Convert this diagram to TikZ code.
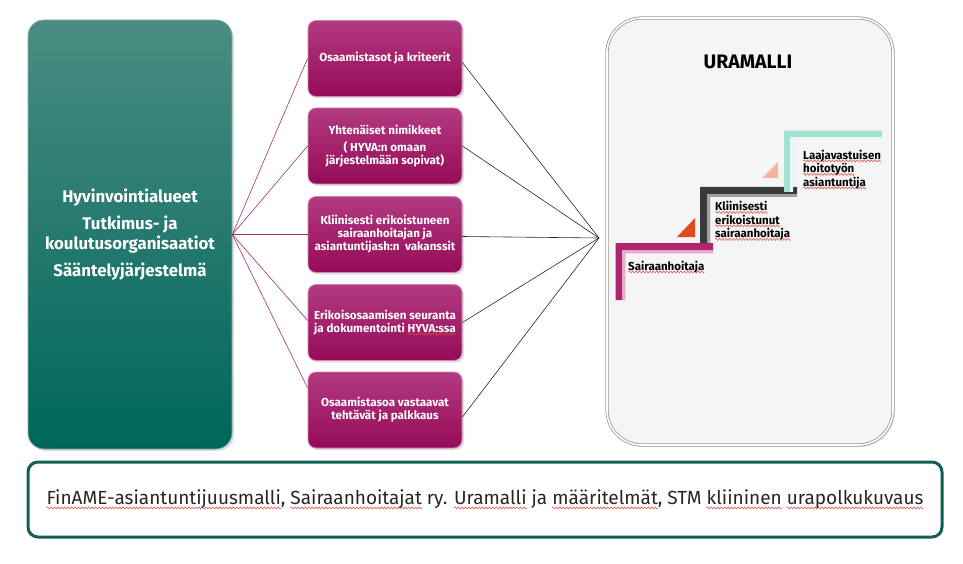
\documentclass[tikz,border=0pt]{standalone}
\usepackage{fontspec}
\setmainfont{Fira Sans}
\usetikzlibrary{calc,shadows}
\definecolor{tealA}{HTML}{4A8C82}
\definecolor{tealB}{HTML}{00665A}
\definecolor{magA}{HTML}{B23A80}
\definecolor{magB}{HTML}{960B58}
\definecolor{frameteal}{HTML}{0E6055}
\definecolor{magline}{HTML}{A0306E}
\definecolor{stairmag}{HTML}{B0246E}
\definecolor{stairmagL}{HTML}{EBA6CC}
\definecolor{stairgray}{HTML}{3A3A3A}
\definecolor{stairgrayL}{HTML}{A0A0A0}
\definecolor{stairmint}{HTML}{A3E1D3}
\definecolor{stairmintL}{HTML}{E8F8F3}
\definecolor{triorange}{HTML}{E04A1C}
\definecolor{tripeach}{HTML}{F5B497}
\definecolor{squig}{HTML}{E04848}
\newsavebox\wavebox
\newsavebox\sqtmp
\AtBeginDocument{%
\sbox\wavebox{\begin{pgfpicture}%
  \pgfpathrectangle{\pgfpoint{0pt}{-1pt}}{\pgfpoint{3.4pt}{2pt}}%
  \pgfusepath{use as bounding box}%
  \pgfsetlinewidth{0.5pt}\pgfsetstrokecolor{squig}%
  \pgfpathmoveto{\pgfpoint{0pt}{0pt}}%
  \pgfpathcurveto{\pgfpoint{0.55pt}{1.4pt}}{\pgfpoint{1.15pt}{1.4pt}}{\pgfpoint{1.7pt}{0pt}}%
  \pgfpathcurveto{\pgfpoint{2.25pt}{-1.4pt}}{\pgfpoint{2.85pt}{-1.4pt}}{\pgfpoint{3.4pt}{0pt}}%
  \pgfusepath{stroke}%
\end{pgfpicture}}}
\newcommand\sq[2][3]{\setbox\sqtmp\hbox{#2}\rlap{\lower#1pt\hbox to\wd\sqtmp{\xleaders\copy\wavebox\hfill}}\box\sqtmp}
\tikzset{
  greenbox/.style={rounded corners=16pt, top color=tealA, bottom color=tealB, draw=tealA!70!white, line width=0.8pt,
    drop shadow={opacity=0.25, shadow xshift=2pt, shadow yshift=-2pt},
    text=white, font=\bfseries\fontsize{16.8}{20}\selectfont, align=center},
  magbox/.style={rounded corners=8pt, top color=magA, bottom color=magB, draw=magA!60!white, line width=0.8pt,
    minimum width=154pt, minimum height=76pt, inner sep=2pt,
    drop shadow={opacity=0.25, shadow xshift=2pt, shadow yshift=-2pt},
    text=white, font=\bfseries\fontsize{11.6}{13}\selectfont, align=center},
  uraframe/.style={rounded corners=35pt, fill=black!4, draw=black!40, line width=0.8pt, double=white, double distance=1.6pt,
    drop shadow={opacity=0.2, shadow xshift=2pt, shadow yshift=-2pt}},
  steptext/.style={anchor=west, align=left, inner sep=0pt, font=\bfseries\fontsize{11.5}{13.5}\selectfont},
  magconn/.style={draw=magline, line width=0.6pt},
  blkconn/.style={draw=black!85, line width=0.6pt},
  footbox/.style={rounded corners=10pt, draw=frameteal, line width=3pt, fill=white}
}
\begin{document}
\begin{tikzpicture}[x=1pt,y=-1pt]
\useasboundingbox (0,0) rectangle (963,564);
% left organisation box
\node[greenbox, minimum width=204pt, minimum height=429pt] (org) at (130,234.5)
  {Hyvinvointialueet\\[7pt]Tutkimus- ja\\koulutusorganisaatiot\\[7pt]Sääntelyjärjestelmä};
% middle boxes
\node[magbox] (b1) at (385,58.5) {Osaamistasot ja kriteerit};
\node[magbox] (b2) at (385,146) {Yhtenäiset nimikkeet\\[4pt]( HYVA:n omaan\\järjestelmään sopivat)};
\node[magbox] (b3) at (385,234.5) {Kliinisesti erikoistuneen\\sairaanhoitajan ja\\asiantuntijash:n\ \ vakanssit};
\node[magbox] (b4) at (385,322.5) {Erikoisosaamisen seuranta\\ja dokumentointi \sq[2.5]{HYVA:ssa}};
\node[magbox] (b5) at (385,410) {Osaamistasoa vastaavat\\tehtävät ja palkkaus};
% right career model box
\node[uraframe, minimum width=286pt, minimum height=427pt] (ura) at (750,231.5) {};
\node[font=\bfseries\fontsize{19.5}{21}\selectfont, inner sep=0pt] (title) at (748,62) {URAMALLI};
% hub
\coordinate (hub) at (599,238);
% connectors left
\foreach \b/\s in {b1/0, b2/0, b3/0, b4/2, b5/22}
  \draw[magconn] (org.east) -- ([yshift=\s pt]\b.west);
% connectors right
\foreach \b/\s in {b1/-4, b2/0, b3/-2, b4/0, b5/-7}
  \draw[blkconn] ([yshift=\s pt]\b.east) -- (hub);
% stairs
\fill[stairmag] (615,243) -- (713,243) -- (713,253) -- (625,253) -- (625,300) -- (615,300) -- cycle;
\draw[stairmagL, line width=2.5pt] (713,251.5) -- (623.5,251.5) -- (623.5,300);
\draw[stairmagL, line width=1pt] (615.5,243) -- (615.5,300);
\fill[stairgray] (700,187) -- (797,187) -- (797,197) -- (710,197) -- (710,243) -- (700,243) -- cycle;
\draw[stairgrayL, line width=2.5pt] (797,195.5) -- (708.5,195.5) -- (708.5,243);
\fill[stairmint] (784,131) -- (882,131) -- (882,140) -- (793,140) -- (793,192) -- (784,192) -- cycle;
\draw[stairmintL, line width=2.5pt] (882,138.5) -- (791.5,138.5) -- (791.5,192);
\fill[triorange] (677,237) -- (695,237) -- (695,218) -- cycle;
\fill[tripeach] (762,178) -- (778,178) -- (778,162) -- cycle;
\node[steptext] (s1) at (628,267) {\sq[2.5]{Sairaanhoitaja}};
\node[steptext] (s2) at (715,221) {\sq[2.5]{Kliinisesti}\\\sq[2.5]{erikoistunut}\\\sq[2.5]{sairaanhoitaja}};
\node[steptext] (s3) at (803,169.5) {\sq[2.5]{Laajavastuisen}\\\sq[2.5]{hoitotyön}\\\sq[2.5]{asiantuntija}};
% footer
\node[footbox, minimum width=914pt, minimum height=75pt, font=\fontsize{19}{22}\selectfont, text=black!85] (foot) at (485,499.5)
  {\sq[4]{FinAME-asiantuntijuusmalli}, \sq[4]{Sairaanhoitajat} ry. \sq[4]{Uramalli} ja \sq[4]{määritelmät}, STM \sq[4]{kliininen} \sq[4]{urapolkukuvaus}};
\end{tikzpicture}
\end{document}
